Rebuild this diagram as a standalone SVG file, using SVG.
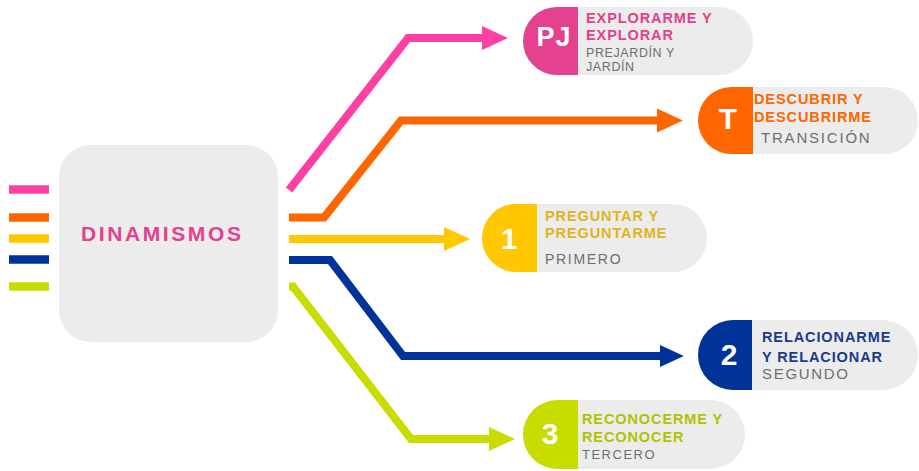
<svg xmlns="http://www.w3.org/2000/svg" width="919" height="471" viewBox="0 0 919 471">
<style>
.bg{fill:#ffffff}
.pill{fill:#ececec}
.conn{fill:none;stroke-width:8;stroke-linejoin:miter;stroke-miterlimit:10}
.stub{stroke-width:8.5}
.big{font-family:"Liberation Sans",Arial,sans-serif;font-weight:bold;fill:#ffffff;text-anchor:middle}
.title{font-family:"Liberation Sans",Arial,sans-serif;font-weight:bold;font-size:14.5px;letter-spacing:0.9px}
.sub{font-family:"Liberation Sans",Arial,sans-serif;fill:#6e6e70}
</style>
<defs>
<marker id="aPink" markerUnits="userSpaceOnUse" viewBox="0 0 26 24" refX="0" refY="12" markerWidth="26" markerHeight="24" orient="auto"><path d="M0,0 L26,12 L0,24 Z" fill="#ff40a3"/></marker>
<marker id="aOrange" markerUnits="userSpaceOnUse" viewBox="0 0 26 24" refX="0" refY="12" markerWidth="26" markerHeight="24" orient="auto"><path d="M0,0 L26,12 L0,24 Z" fill="#ff6600"/></marker>
<marker id="aYellow" markerUnits="userSpaceOnUse" viewBox="0 0 26 24" refX="0" refY="12" markerWidth="26" markerHeight="24" orient="auto"><path d="M0,0 L26,12 L0,24 Z" fill="#ffc800"/></marker>
<marker id="aBlue" markerUnits="userSpaceOnUse" viewBox="0 0 26 24" refX="0" refY="12" markerWidth="26" markerHeight="22" orient="auto"><path d="M0,0 L26,12 L0,24 Z" fill="#003399"/></marker>
<marker id="aGreen" markerUnits="userSpaceOnUse" viewBox="0 0 26 24" refX="0" refY="12" markerWidth="26" markerHeight="24" orient="auto"><path d="M0,0 L26,12 L0,24 Z" fill="#c8dc00"/></marker>
</defs>
<rect class="bg" x="0" y="0" width="919" height="471"/>

<g id="connectors">
  <line class="conn stub" x1="9" y1="189.5" x2="49" y2="189.5" stroke="#ff40a3"/>
  <line class="conn stub" x1="9" y1="217.5" x2="49" y2="217.5" stroke="#ff6600"/>
  <line class="conn stub" x1="9" y1="238.5" x2="49" y2="238.5" stroke="#ffc800"/>
  <line class="conn stub" x1="9" y1="259.5" x2="49" y2="259.5" stroke="#003399"/>
  <line class="conn stub" x1="9" y1="286.5" x2="49" y2="286.5" stroke="#c8dc00"/>
  <path class="conn" d="M289,190 L408,38 H482" stroke="#ff40a3" marker-end="url(#aPink)"/>
  <path class="conn" d="M289,217.5 H324 L401,120.5 H657" stroke="#ff6600" marker-end="url(#aOrange)"/>
  <path class="conn" d="M289,239 H444" stroke="#ffc800" marker-end="url(#aYellow)"/>
  <path class="conn" d="M289,260 H330 L403,356 H660" stroke="#003399" marker-end="url(#aBlue)"/>
  <path class="conn" d="M289,286.5 H293 L411,439 H489" stroke="#c8dc00" marker-end="url(#aGreen)"/>
</g>

<g id="dinamismos">
  <rect x="59" y="145" width="219" height="197" rx="32" ry="32" fill="#ececec"/>
  <text x="81" y="241" font-family="'Liberation Sans',Arial,sans-serif" font-weight="bold" font-size="21" letter-spacing="2.6" fill="#e5408f">DINAMISMOS</text>
</g>

<g id="node-pj">
  <rect class="pill" x="523" y="7" width="230" height="68" rx="34" ry="34"/>
  <path d="M578,7 H557 A34,34 0 0 0 557,75 H578 Z" fill="#e4418f"/>
  <text class="big" x="554" y="46" font-size="27" letter-spacing="1">PJ</text>
  <text class="title" x="586" y="23" fill="#e4408f">EXPLORARME Y</text>
  <text class="title" x="586" y="40" fill="#e4408f">EXPLORAR</text>
  <text class="sub" x="586" y="57" font-size="12.5" letter-spacing="0.6">PREJARDÍN Y</text>
  <text class="sub" x="586" y="71" font-size="12.5" letter-spacing="0.6">JARDÍN</text>
</g>

<g id="node-t">
  <rect class="pill" x="698" y="87" width="220" height="67" rx="33.5" ry="33.5"/>
  <path d="M753,87 H731.5 A33.5,33.5 0 0 0 731.5,154 H753 Z" fill="#ff6600"/>
  <text class="big" x="728" y="129" font-size="30">T</text>
  <text class="title" x="754" y="104" fill="#ff6600">DESCUBRIR Y</text>
  <text class="title" x="754" y="122" fill="#ff6600" letter-spacing="1.1">DESCUBRIRME</text>
  <text class="sub" x="761" y="143" font-size="15" letter-spacing="1.8">TRANSICIÓN</text>
</g>

<g id="node-1">
  <rect class="pill" x="482" y="204" width="225" height="68" rx="34" ry="34"/>
  <path d="M537,204 H516 A34,34 0 0 0 516,272 H537 Z" fill="#ffc800"/>
  <text class="big" x="509" y="249" font-size="30">1</text>
  <text class="title" x="545" y="221" fill="#e0b41c">PREGUNTAR Y</text>
  <text class="title" x="545" y="238" fill="#e0b41c" letter-spacing="0.7">PREGUNTARME</text>
  <text class="sub" x="545" y="264" font-size="14" letter-spacing="1.7">PRIMERO</text>
</g>

<g id="node-2">
  <rect class="pill" x="698" y="320" width="220" height="70" rx="35" ry="35"/>
  <path d="M752,320 H733 A35,35 0 0 0 733,390 H752 Z" fill="#003399"/>
  <text class="big" x="729" y="365" font-size="30">2</text>
  <text class="title" x="762" y="342" fill="#1a3a8f" letter-spacing="0.75">RELACIONARME</text>
  <text class="title" x="762" y="362" fill="#1a3a8f" letter-spacing="0.75">Y RELACIONAR</text>
  <text class="sub" x="762" y="379" font-size="15" letter-spacing="1.7">SEGUNDO</text>
</g>

<g id="node-3">
  <rect class="pill" x="523" y="400" width="222" height="69" rx="34.5" ry="34.5"/>
  <path d="M578,400 H557.5 A34.5,34.5 0 0 0 557.5,469 H578 Z" fill="#c8dc00"/>
  <text class="big" x="550" y="444" font-size="30">3</text>
  <text class="title" x="582" y="424" fill="#b1c300" letter-spacing="1.2">RECONOCERME Y</text>
  <text class="title" x="582" y="442" fill="#b1c300" letter-spacing="1.2">RECONOCER</text>
  <text class="sub" x="582" y="459" font-size="13" letter-spacing="1.5">TERCERO</text>
</g>
</svg>
